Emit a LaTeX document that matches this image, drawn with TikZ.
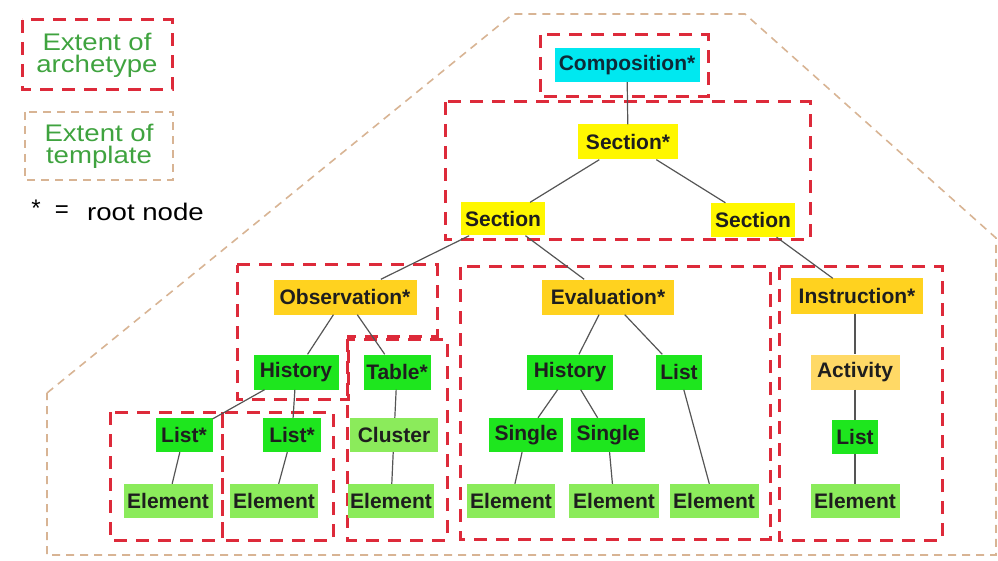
\documentclass[tikz,border=0pt]{standalone}
\usepackage{fontspec}
\setmainfont{Liberation Sans}
\definecolor{cyanC}{HTML}{00E8F0}
\definecolor{yellowC}{HTML}{FFF700}
\definecolor{goldC}{HTML}{FFD21F}
\definecolor{actC}{HTML}{FFD966}
\definecolor{greenC}{HTML}{1EE61E}
\definecolor{lgreenC}{HTML}{8BEB5B}
\definecolor{redC}{HTML}{DD2A3A}
\definecolor{tanC}{HTML}{D8B494}
\definecolor{lineC}{HTML}{555555}
\definecolor{txtC}{HTML}{1E1E1E}
\definecolor{compT}{HTML}{0E2A38}
\definecolor{legG}{HTML}{3FA33F}
\newcommand{\hstretch}[1]{\scalebox{1.15}[1]{#1}}
\tikzset{
  nd/.style={inner sep=0pt, minimum height=34pt, text=txtC,
    font=\fontsize{21}{23}\selectfont\bfseries},
  arch/.style={draw=redC, line width=3pt, dash pattern=on 13pt off 9pt},
  tmpl/.style={draw=tanC, line width=1.6pt, dash pattern=on 8pt off 6pt},
  conn/.style={draw=lineC, line width=1.2pt},
  leg/.style={inner sep=0pt, align=center, font=\fontsize{24}{23}\selectfont}
}
\begin{document}
\begin{tikzpicture}[x=1pt,y=-1pt]
\useasboundingbox (0,0) rectangle (998,561);
% template outline
\draw[tmpl] (47,393) -- (513,14) -- (745,14) -- (996,238) -- (996,555) -- (47,555) -- cycle;
% legend
\draw[arch] (22,20) rectangle (172,90);
\node[leg, text=legG] (legA) at (97,55) {\hstretch{Extent of}\\[-1pt]\hstretch{archetype}};
\draw[tmpl] (25,112) rectangle (173,180);
\node[leg, text=legG] (legT) at (99,146) {\hstretch{Extent of}\\[-1pt]\hstretch{template}};
\node[leg, text=black] (legS) at (36,208) {*};
\node[leg, text=black] (legE) at (62,212) {=};
\node[leg, anchor=west, text=black] (legR) at (87,212) {\hstretch{root node}};
% archetype boxes
\draw[arch] (540,35) rectangle (708,97);
\draw[arch] (445,102) rectangle (810,240);
\draw[arch] (237,265) -- (437,265) -- (437,336) -- (348,336) -- (348,399) -- (237,399) -- cycle;
\draw[arch] (347,339) rectangle (447,540);
\draw[arch] (110,412) rectangle (222,540);
\draw[arch] (222,412) rectangle (333,540);
\draw[arch] (460,267) rectangle (770,539);
\draw[arch] (779,267) rectangle (942,540);
% nodes
\node[nd, fill=cyanC, minimum width=145pt, text=compT] (comp) at (627,65) {Composition*};
\node[nd, fill=yellowC, minimum width=100pt, minimum height=35pt] (secS) at (628,142) {Section*};
\node[nd, fill=yellowC, minimum width=84pt, minimum height=33pt] (secL) at (503,219) {Section};
\node[nd, fill=yellowC, minimum width=84pt] (secR) at (753,220) {Section};
\node[nd, fill=goldC, minimum width=143pt, minimum height=35pt] (obs) at (345,297) {Observation*};
\node[nd, fill=greenC, minimum width=85pt, minimum height=35pt] (hist1) at (296,372) {History};
\node[nd, fill=greenC, minimum width=67pt, minimum height=35pt] (tab) at (397,372) {Table*};
\node[nd, fill=lgreenC, minimum width=88pt] (clus) at (394,435) {Cluster};
\node[nd, fill=lgreenC, minimum width=86pt] (el3) at (391,501) {Element};
\node[nd, fill=greenC, minimum width=57pt] (lst1) at (184,435) {List*};
\node[nd, fill=greenC, minimum width=58pt] (lst2) at (292,435) {List*};
\node[nd, fill=lgreenC, minimum width=89pt] (el1) at (168,501) {Element};
\node[nd, fill=lgreenC, minimum width=88pt] (el2) at (274,501) {Element};
\node[nd, fill=goldC, minimum width=132pt, minimum height=35pt] (eval) at (608,297) {Evaluation*};
\node[nd, fill=greenC, minimum width=86pt, minimum height=35pt] (hist2) at (570,372) {History};
\node[nd, fill=greenC, minimum width=46pt, minimum height=35pt] (lst3) at (679,372) {List};
\node[nd, fill=greenC, minimum width=74pt] (sg1) at (526,435) {Single};
\node[nd, fill=greenC, minimum width=74pt] (sg2) at (608,435) {Single};
\node[nd, fill=lgreenC, minimum width=88pt] (el4) at (511,501) {Element};
\node[nd, fill=lgreenC, minimum width=90pt] (el5) at (614,501) {Element};
\node[nd, fill=lgreenC, minimum width=89pt] (el6) at (714,501) {Element};
\node[nd, fill=goldC, minimum width=132pt, minimum height=35pt] (instr) at (857,296) {Instruction*};
\node[nd, fill=actC, minimum width=89pt, minimum height=35pt] (act) at (855,372) {Activity};
\node[nd, fill=greenC, minimum width=46pt] (lst4) at (855,437) {List};
\node[nd, fill=lgreenC, minimum width=89pt] (el7) at (855,501) {Element};
% connectors
\draw[conn] (comp) -- (secS);
\draw[conn] (secS) -- (secL);
\draw[conn] (secS) -- (secR);
\draw[conn] (secL) -- (obs);
\draw[conn] (secL) -- (eval);
\draw[conn] (secR) -- (instr);
\draw[conn] (obs) -- (hist1);
\draw[conn] (obs) -- (tab);
\draw[conn] (hist1) -- (lst1);
\draw[conn] (hist1) -- (lst2);
\draw[conn] (lst1) -- (el1);
\draw[conn] (lst2) -- (el2);
\draw[conn] (tab) -- (clus);
\draw[conn] (clus) -- (el3);
\draw[conn] (eval) -- (hist2);
\draw[conn] (eval) -- (lst3);
\draw[conn] (hist2) -- (sg1);
\draw[conn] (hist2) -- (sg2);
\draw[conn] (sg1) -- (el4);
\draw[conn] (sg2) -- (el5);
\draw[conn] (lst3) -- (el6);
\draw[conn] (instr.south -| act.north) -- (act.north);
\draw[conn] (act) -- (lst4);
\draw[conn] (lst4) -- (el7);
\end{tikzpicture}
\end{document}
